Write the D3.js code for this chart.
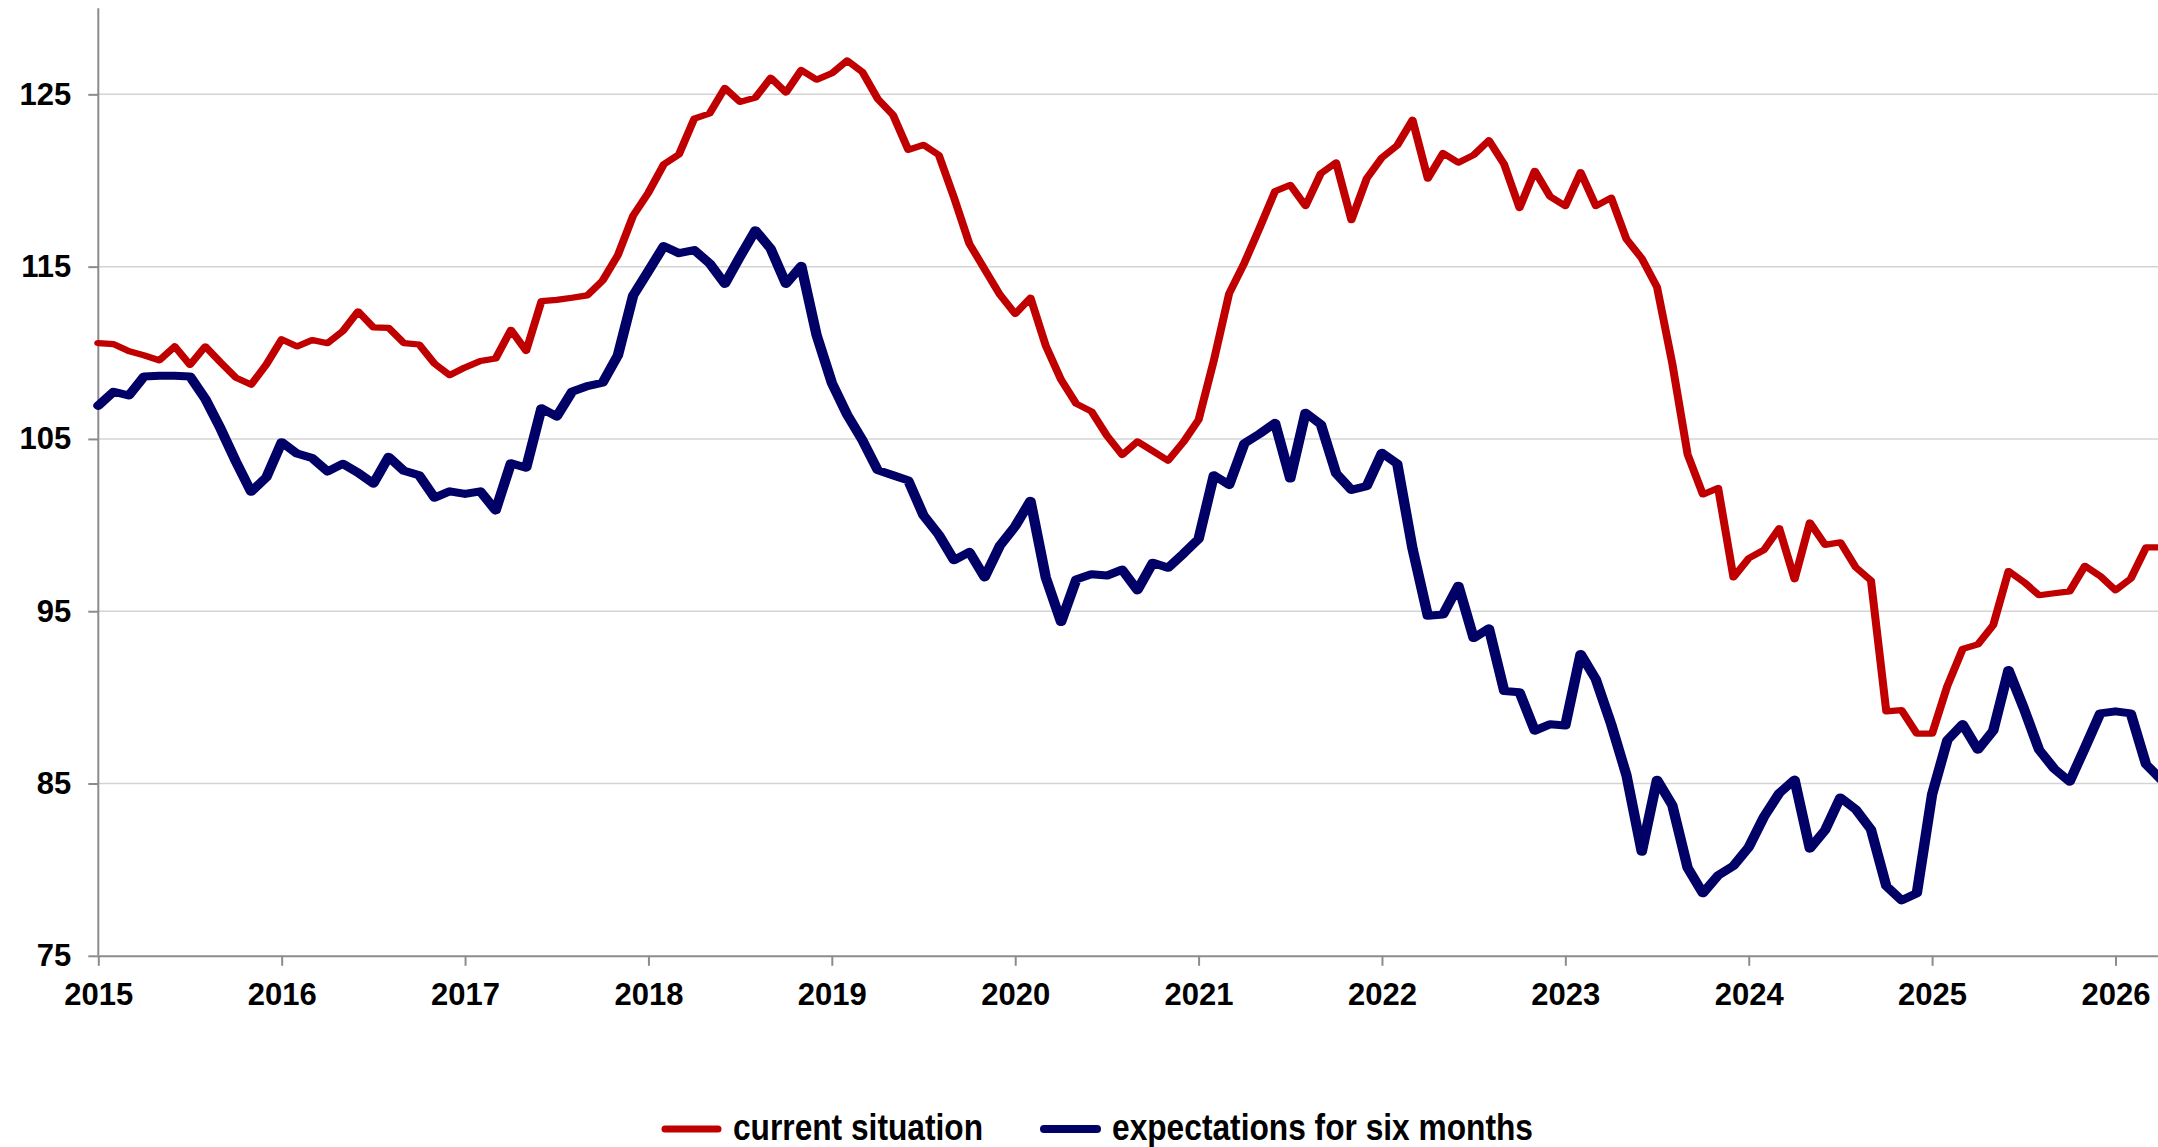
<!DOCTYPE html>
<html>
<head>
<meta charset="utf-8">
<title>Current situation and expectations</title>
<script src="https://cdn.jsdelivr.net/npm/d3@7/dist/d3.min.js"></script>
<style>
  body { margin: 0; background: #fff; }
  svg { display: block; font-family: "Liberation Sans", Arial, sans-serif; }
</style>
</head>
<body>
<svg id="viz"></svg>
<script>
// monthly values, Jan 2015 .. Apr 2026
var startYear = 2015;

var currentSituation = [
  110.56, 110.5, 110.1, 109.85, 109.56, 110.37, 109.3, 110.37, 109.44, 108.56, 108.15, 109.33,
  110.78, 110.37, 110.74, 110.56, 111.26, 112.4, 111.48, 111.45, 110.56, 110.48, 109.37, 108.7,
  109.15, 109.52, 109.67, 111.33, 110.11, 113.0, 113.07, 113.19, 113.33, 114.19, 115.67, 117.96,
  119.3, 120.93, 121.52, 123.59, 123.89, 125.37, 124.56, 124.81, 125.96, 125.11, 126.41, 125.85,
  126.22, 126.96, 126.3, 124.74, 123.81, 121.78, 122.07, 121.48, 119.0, 116.33, 114.85, 113.37,
  112.26, 113.19, 110.41, 108.44, 107.04, 106.59, 105.19, 104.07, 104.85, 104.3, 103.74, 104.81,
  106.11, 109.56, 113.44, 115.22, 117.26, 119.37, 119.74, 118.52, 120.41, 121.04, 117.7, 120.11,
  121.33, 122.04, 123.52, 120.11, 121.59, 121.04, 121.48, 122.33, 120.93, 118.4, 120.56, 119.07,
  118.52, 120.48, 118.52, 119.0, 116.59, 115.48, 113.81, 109.37, 104.11, 101.78, 102.15, 96.96,
  98.07, 98.56, 99.81, 96.85, 100.15, 98.85, 99.0, 97.55, 96.78, 89.19, 89.26, 87.89,
  87.89, 90.67, 92.81, 93.07, 94.19, 97.33, 96.7, 95.93, 96.04, 96.15, 97.63, 97.04,
  96.22, 96.89, 98.7, 98.7
];

var expectations = [
  106.93, 107.74, 107.52, 108.63, 108.67, 108.67, 108.63, 107.33, 105.6, 103.7, 101.93, 102.78,
  104.81, 104.15, 103.89, 103.11, 103.56, 103.04, 102.41, 103.96, 103.15, 102.89, 101.59, 101.96,
  101.81, 101.96, 100.85, 103.59, 103.33, 106.78, 106.3, 107.74, 108.07, 108.26, 109.85, 113.33,
  114.74, 116.19, 115.78, 115.96, 115.19, 114.0, 115.59, 117.11, 116.04, 114.0, 115.04, 111.04,
  108.26, 106.41, 104.93, 103.19, 102.89, 102.59, 100.56, 99.44, 97.96, 98.44, 96.96, 98.81,
  99.93, 101.41, 96.96, 94.37, 96.85, 97.15, 97.07, 97.41, 96.22, 97.81, 97.52, 98.33,
  99.19, 102.89, 102.33, 104.74, 105.3, 105.93, 102.7, 106.52, 105.85, 103.0, 102.04, 102.26,
  104.19, 103.56, 98.63, 94.74, 94.81, 96.48, 93.44, 94.0, 90.37, 90.3, 88.07, 88.44,
  88.37, 92.52, 91.04, 88.44, 85.48, 81.04, 85.22, 83.74, 80.11, 78.63, 79.67, 80.22,
  81.3, 83.07, 84.44, 85.22, 81.22, 82.3, 84.19, 83.5, 82.33, 79.05, 78.22, 78.63,
  84.37, 87.52, 88.44, 86.96, 88.07, 91.59, 89.37, 86.96, 85.85, 85.11, 87.07, 89.07,
  89.19, 89.07, 86.11, 85.22
];

var yearTicks = d3.range(2015, 2027);
var valueTicks = [75, 85, 95, 105, 115, 125];

var seriesNames = ["current situation", "expectations for six months"];
var seriesColors = ["#c00000", "#000066"];

var width = 2158;
var height = 1147;

var svg = d3.select("#viz").attr("width", width).attr("height", height);

// 2015 sits at x=98, 2026 at x=2115; axis runs on to the right edge
var x = d3.scaleLinear()
    .domain([2015, 2015 + (width - 98.3) / 183.38])
    .range([98.3, width]);

var y = d3.scaleLinear()
    .domain([75, 130])
    .range([955.8, 8.2]);

// gridlines
svg.append("g")
    .selectAll("line")
    .data(valueTicks.slice(1))
    .enter()
    .append("line")
    .attr("x1", x.range()[0])
    .attr("x2", width)
    .attr("y1", function(d) { return y(d); })
    .attr("y2", function(d) { return y(d); })
    .attr("stroke", "#d4d4d4")
    .attr("stroke-width", 1.5);

var yAxis = svg.append("g")
    .attr("transform", "translate(" + x.range()[0] + ",0)")
    .call(d3.axisLeft(y).tickValues(valueTicks).tickSize(10).tickSizeOuter(0).tickPadding(17));

var xAxis = svg.append("g")
    .attr("transform", "translate(0," + y(75) + ")")
    .call(d3.axisBottom(x).tickValues(yearTicks).tickFormat(d3.format("d")).tickSize(10).tickSizeOuter(0).tickPadding(17));

[yAxis, xAxis].forEach(function(ax) {
    ax.select(".domain").attr("stroke", "#8c8c8c").attr("stroke-width", 2);
    ax.selectAll(".tick line").attr("stroke", "#8c8c8c").attr("stroke-width", 2);
    ax.selectAll("text")
        .attr("fill", "#000")
        .style("font-family", "'Liberation Sans', Arial, sans-serif")
        .style("font-weight", "bold")
        .style("font-size", "31px");
});
// y axis line reaches the top of the plot
yAxis.select(".domain").attr("d", "M0," + y(130) + "V" + y(75));

// the original chart was stretched sideways, so steep strokes look heavier:
// draw the lines in a squeezed frame and stretch the group back out
var stretch = 1.3;

var line = d3.line()
    .x(function(d, i) { return x(startYear + i / 12) / stretch; })
    .y(function(d) { return y(d); });

var plot = svg.append("g").attr("transform", "scale(" + stretch + ",1)");

plot.append("path")
    .datum(currentSituation)
    .attr("d", line)
    .attr("fill", "none")
    .attr("stroke", seriesColors[0])
    .attr("stroke-width", 6.2)
    .attr("stroke-linejoin", "round")
    .attr("stroke-linecap", "round");

plot.append("path")
    .datum(expectations)
    .attr("d", line)
    .attr("fill", "none")
    .attr("stroke", seriesColors[1])
    .attr("stroke-width", 8)
    .attr("stroke-linejoin", "round")
    .attr("stroke-linecap", "round");

// legend
var legendItems = [
    {name: seriesNames[0], color: seriesColors[0], x: 665, len: 250, w: 7},
    {name: seriesNames[1], color: seriesColors[1], x: 1044, len: 421, w: 8}
];

var legend = svg.append("g").selectAll("g")
    .data(legendItems)
    .enter()
    .append("g")
    .attr("transform", function(d) { return "translate(" + d.x + ",1129)"; });

legend.append("line")
    .attr("x1", 0)
    .attr("x2", 53)
    .attr("stroke", function(d) { return d.color; })
    .attr("stroke-width", function(d) { return d.w; })
    .attr("stroke-linecap", "round");

legend.append("text")
    .attr("x", 68)
    .attr("y", 11)
    .attr("textLength", function(d) { return d.len; })
    .attr("lengthAdjust", "spacingAndGlyphs")
    .style("font-family", "'Liberation Sans Narrow', 'Arial Narrow', 'Liberation Sans', Arial, sans-serif")
    .style("font-weight", "bold")
    .style("font-size", "37px")
    .text(function(d) { return d.name; });
</script>
</body>
</html>
